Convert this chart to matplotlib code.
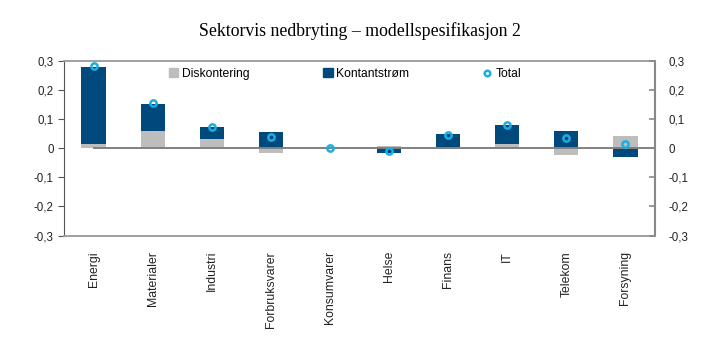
import numpy as np
import matplotlib.pyplot as plt
from matplotlib.lines import Line2D
from matplotlib.patches import Patch

sectors = ['Energi', 'Materialer', 'Industri', 'Forbruksvarer', 'Konsumvarer',
           'Helse', 'Finans', 'IT', 'Telekom', 'Forsyning']
diskontering = [0.015, 0.060, 0.033, -0.015, -0.002, 0.008, -0.004, 0.014, -0.024, 0.042]
kontantstrom = [0.265, 0.093, 0.038, 0.055, 0.002, -0.017, 0.050, 0.064, 0.060, -0.029]
total = [0.281, 0.154, 0.071, 0.039, 0.000, -0.009, 0.046, 0.079, 0.036, 0.015]
yticks = [-0.3, -0.2, -0.1, 0, 0.1, 0.2, 0.3]
ytick_labels = ['-0,3', '-0,2', '-0,1', '0', '0,1', '0,2', '0,3']

grey = '#BDBDBD'
blue = '#00497C'
cyan = '#1AAEE3'

plt.rcParams['font.family'] = ['Liberation Sans', 'DejaVu Sans']

fig = plt.figure(figsize=(7.19, 3.41), dpi=100)
ax = fig.add_axes([0.089, 0.309, 0.822, 0.513])

x = np.arange(len(sectors))
d = np.array(diskontering)
k = np.array(kontantstrom)
# stack the cash-flow part on top of discounting when both have the same sign
bottom = np.where(np.sign(d) == np.sign(k), d, 0)

w = 0.41
ax.bar(x, d, w, color=grey, zorder=2)
ax.bar(x, k, w, bottom=bottom, color=blue, zorder=2)
ax.plot([0, len(sectors) - 0.5], [0, 0], color='#808080', lw=1.4, zorder=3)
ax.plot(x, total, 'o', ms=4.5, mfc='none', mec=cyan, mew=1.8, zorder=4)

ax.set_xlim(-0.5, len(sectors) - 0.5)
ax.set_ylim(-0.3, 0.3)
ax.set_yticks(yticks)
ax.set_yticklabels(ytick_labels, fontsize=8.3, color='#222222')
ax.tick_params(axis='y', direction='out', length=4, color='#555555', width=0.8)
ax.set_xticks(x)
ax.set_xticklabels(sectors, rotation=90, fontsize=8.8, color='#222222')
ax.tick_params(axis='x', length=0, pad=11)

for s in ['top', 'bottom']:
    ax.spines[s].set_color('#999999')
    ax.spines[s].set_linewidth(1.3)
ax.spines['left'].set_color('#555555')
ax.spines['left'].set_linewidth(0.8)
ax.spines['right'].set_color('#888888')
ax.spines['right'].set_linewidth(1.5)

ax2 = ax.twinx()
ax2.set_ylim(-0.3, 0.3)
ax2.set_yticks(yticks)
ax2.set_yticklabels(ytick_labels, fontsize=8.3, color='#222222')
ax2.tick_params(axis='y', direction='in', length=4, color='#888888', width=1.2, pad=10)
for s in ax2.spines.values():
    s.set_visible(False)

handles = [Patch(color=grey), Patch(color=blue),
           Line2D([], [], ls='none', marker='o', ms=4, mfc='none', mec=cyan, mew=1.8)]
ax.legend(handles, ['Diskontering', 'Kontantstrøm', 'Total'], ncol=3, frameon=False,
          loc='upper left', bbox_to_anchor=(0.16, 1.02), fontsize=8.7,
          handlelength=0.75, handleheight=0.75, handletextpad=0.3, columnspacing=6.1)

fig.text(0.5, 0.91, 'Sektorvis nedbryting – modellspesifikasjon 2', ha='center', va='center',
         fontsize=12.8, family='Liberation Serif')

fig.savefig('out.png', dpi=100)
